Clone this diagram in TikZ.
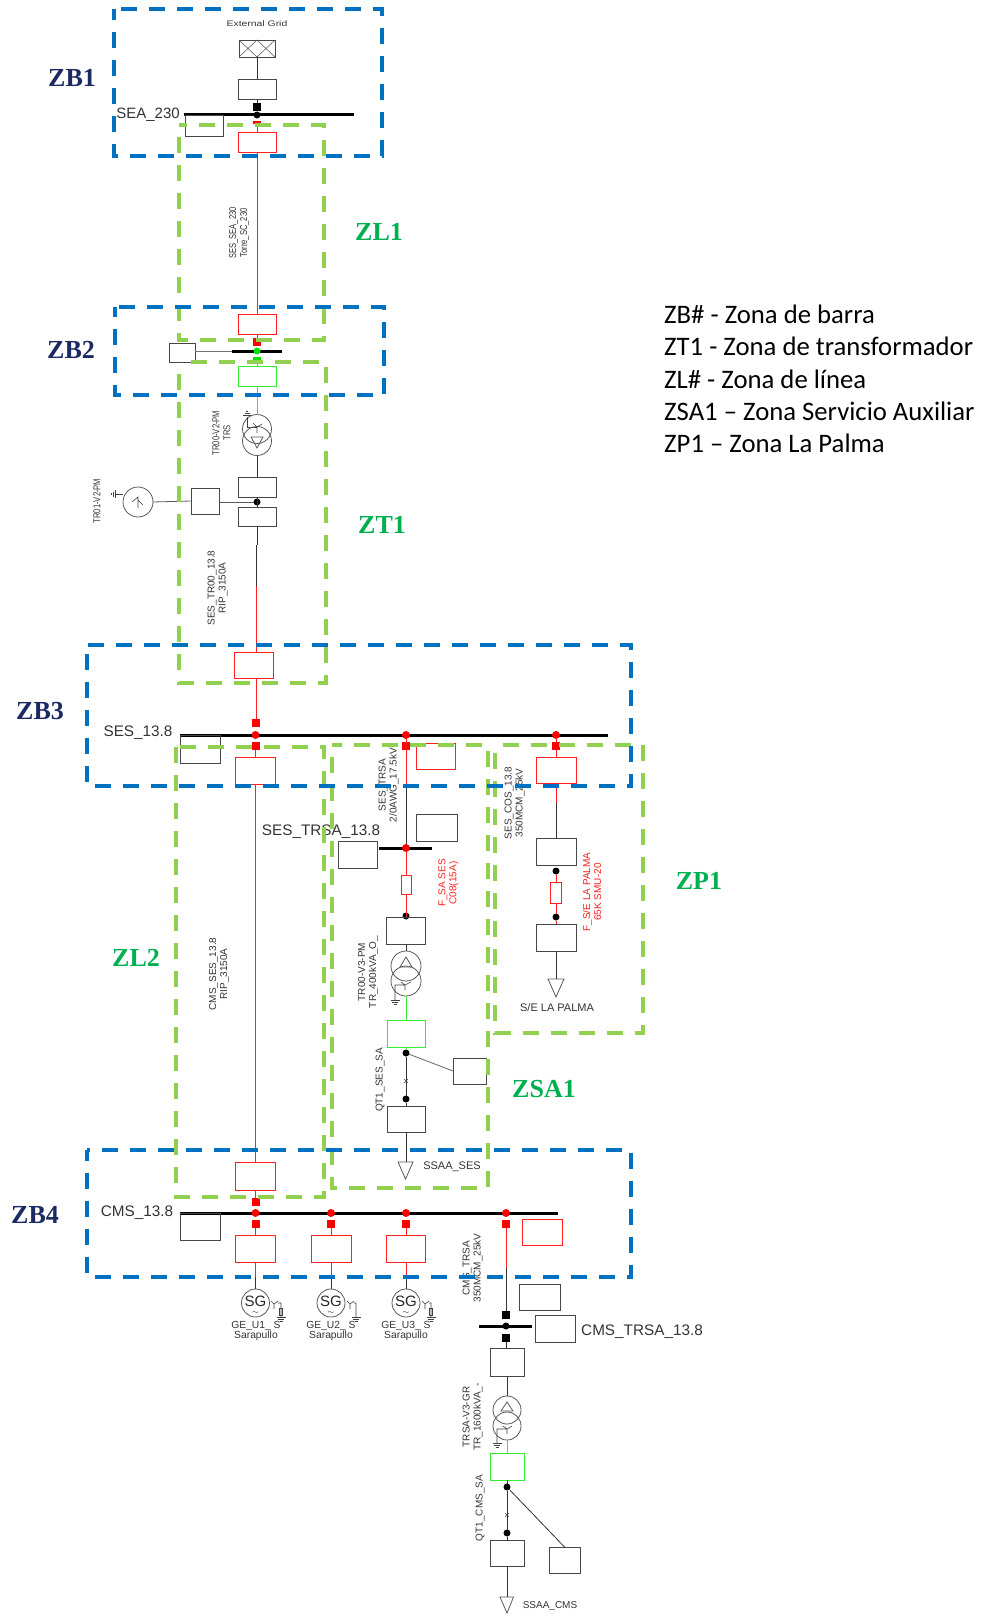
\documentclass[tikz,border=0pt]{standalone}
\usepackage{graphicx}
\usepackage{fontspec}
\setmainfont{Liberation Sans}
\newfontfamily\legendfont{Carlito}
\newfontfamily\zonefont{Liberation Serif}
\definecolor{zoneblue}{HTML}{0070C0}
\definecolor{zonegreen}{HTML}{92D050}
\definecolor{txtgreen}{HTML}{00B050}
\definecolor{txtnavy}{HTML}{1B2A63}
\definecolor{linered}{HTML}{FF2020}
\definecolor{linegreen}{HTML}{33EE33}
\newcommand{\narrowtxt}[1]{\scalebox{.76}[1]{#1}}
\newcommand{\gndsym}[2]{
\draw[gnd] (#1-4.5,#2) -- (#1+4.5,#2);
\draw[gnd] (#1-3,#2+2) -- (#1+3,#2+2);
\draw[gnd] (#1-1.5,#2+4) -- (#1+1.5,#2+4);
}
\tikzset{
zb/.style={zoneblue,line width=3.6pt,dash pattern=on 16pt off 12pt,dash phase=#1},
zg/.style={zonegreen,line width=3.6pt,dash pattern=on 16pt off 12pt,dash phase=#1},
bkbox/.style 2 args={draw=black!72,line width=.9pt,minimum width=#1,minimum height=#2,inner sep=0pt,outer sep=0pt},
rdbox/.style 2 args={draw=linered,line width=.9pt,minimum width=#1,minimum height=#2,inner sep=0pt,outer sep=0pt},
gnbox/.style 2 args={draw=linegreen,line width=.9pt,minimum width=#1,minimum height=#2,inner sep=0pt,outer sep=0pt},
bus/.style={fill=black,minimum width=#1,minimum height=3pt,inner sep=0pt,outer sep=0pt},
bdot/.style={circle,fill=black,minimum size=7pt,inner sep=0pt,outer sep=0pt},
rdot/.style={circle,fill=red,minimum size=8pt,inner sep=0pt,outer sep=0pt},
gdot/.style={circle,fill=green!90!black,minimum size=7pt,inner sep=0pt,outer sep=0pt},
bsq/.style={fill=black,minimum size=8pt,inner sep=0pt,outer sep=0pt},
rsq/.style={fill=red,minimum size=8pt,inner sep=0pt,outer sep=0pt},
gsq/.style={fill=green!90!black,minimum width=8pt,minimum height=4pt,inner sep=0pt,outer sep=0pt},
circ/.style={circle,draw=black!65,line width=.8pt,minimum size=#1,inner sep=0pt,outer sep=0pt},
tri/.style={draw=black!65,line width=.8pt},
lnb/.style={black!80,line width=.8pt},
lnr/.style={linered,line width=.8pt},
lng/.style={linegreen,line width=.8pt},
gnd/.style={black!75,line width=.6pt},
rlab/.style={rotate=90,align=center,inner sep=0pt,text=black!80,font=\fontsize{10}{11}\selectfont},
rlabr/.style={rotate=90,align=center,inner sep=0pt,text=linered,font=\fontsize{10}{11}\selectfont},
hlab/.style={inner sep=0pt,text=black!80,font=\fontsize{11}{12}\selectfont},
buslab/.style={inner sep=0pt,text=black!80,font=\fontsize{15.3}{16}\selectfont},
sgtxt/.style={align=center,inner sep=0pt,font=\fontsize{15}{8}\selectfont,text=black!85},
zbtxt/.style={inner sep=0pt,text=txtnavy,font=\fontsize{26}{28}\zonefont\bfseries},
zgtxt/.style={inner sep=0pt,text=txtgreen,font=\fontsize{26}{28}\zonefont\bfseries},
legendtxt/.style={anchor=west,inner sep=0pt,text=black,font=\fontsize{26.7}{28}\legendfont},
}
\begin{document}
\begin{tikzpicture}[x=1pt,y=-1pt]
\useasboundingbox (0,0) rectangle (981,1616);

% grid feed and SEA_230
\node[hlab] (extgrid) at (257,24) {\fontsize{8}{9}\selectfont\scalebox{1.3}[1]{External Grid}};
\node[bkbox={36}{17}] (gridbox) at (257,48.5) {};
\draw[black!70,line width=.5pt] (gridbox.north west) -- (gridbox.south) -- (gridbox.north east);
\draw[black!70,line width=.5pt] (gridbox.south west) -- (gridbox.north) -- (gridbox.south east);
\node[bkbox={38}{20}] (b1) at (257,89) {};
\node[bsq] (sq1) at (257,107) {};
\node[bus=170] (sea) at (269,115) {};
\node[bdot] (d1) at (257,115) {};
\node[rsq,minimum height=3pt] (sq2) at (257,123) {};
\node[bkbox={38}{21}] (seabox) at (204,125.5) {};
\node[rdbox={38}{20}] (r1) at (257,142) {};
\node[buslab,font=\fontsize{15}{16}\selectfont] (sealab) at (148,115) {SEA\_230};
\draw[lnb] (gridbox.south) -- (b1.north);
\draw[lnb] (b1.south) -- (sq1.north);
\draw[lnr] (sq2.south) -- (r1.north);
\draw[lnr] (r1.south) -- (257,314) coordinate (c1);
\node[rlab] (l1) at (239,233) {\narrowtxt{SES\_SEA\_230}\\\narrowtxt{Torre\_SC\_230}};

% bus of zone 2
\node[rdbox={38}{20}] (r2) at (257,324) {};
\node[rsq] (sq3) at (257,342) {};
\node[bus=50] (zb2bus) at (257,351) {};
\node[gdot] (d2) at (257,351) {};
\node[gsq] (sq4) at (257,359) {};
\node[gnbox={38}{20}] (g1) at (257,376) {};
\node[bkbox={26}{19}] (zb2box) at (182,352.5) {};
\draw[lnr] (r2.south) -- (sq3.north);
\draw[lng] (sq4.south) -- (g1.north);
\draw[black!55,line width=.8pt] (zb2box.east |- zb2bus) -- (zb2bus.west);

% transformer TR00-V2
\node[circ=29] (t1a) at (257,429) {};
\node[circ=29] (t1b) at (257,441) {};
\node[bkbox={38}{20}] (b2) at (257,487) {};
\node[bdot] (d3) at (257,502) {};
\node[bkbox={38}{19}] (b3) at (257,516.5) {};
\node[circ=30] (gen1) at (138,502) {};
\node[bkbox={28}{26}] (tr01box) at (205,501) {};
\draw[lng] (g1.south) -- (t1a.north);
\draw[lnb] (t1b.south) -- (b2.north);
\draw[lnb] (b2.south) -- (b3.north);
\draw[black!65,line width=.8pt] (gen1.east) -- (tr01box.west);
\draw[black!65,line width=.8pt] (tr01box.east |- d3) -- (d3);
\draw[tri] (251,437) -- (263,437) -- (257,448) -- cycle;
\draw[gnd] (247,417) -- (247,427) -- (252,427) -- (257,427);
\draw[gnd] (257,427) -- (262,424) (257,427) -- (253,423) (257,427) -- (257,433);
\draw[gnd] (243,415) -- (251,415) (244.5,413) -- (249.5,413) (246,411) -- (248,411);
\draw[gnd] (132,502) -- (138,497) -- (138,508) (138,500) -- (143,505);
\draw[gnd] (123,494) -- (115,494);
\draw[gnd] (115,490) -- (115,498) (113,491.5) -- (113,496.5) (111,493) -- (111,495);
\node[rlab] (l2) at (221.5,433) {\narrowtxt{TR00-V2-PM}\\\narrowtxt{TRS}};
\node[rlab] (l3) at (97,501) {\narrowtxt{TR01-V2-PM}};

% cable to SES_13.8
\coordinate (c2) at (257,545);
\coordinate (c3) at (256,545);
\coordinate (c4) at (256,586);
\node[rdbox={39}{26}] (r3) at (253.5,665) {};
\draw[lnb] (b3.south) -- (c2);
\draw[lnb] (c3) -- (c4);
\draw[lnr] (c4) -- (c4 |- r3.north);
\node[rlab] (l4) at (217.5,588) {SES\_TR00\_13.8\\RIP\_3150A};

% SES_13.8
\node[bus=428] (ses) at (394,735) {};
\node[buslab] (seslab) at (138,733) {SES\_13.8};
\node[rsq] (sq5) at (255.5,723) {};
\node[rdot] (d4) at (255.5,735) {};
\node[rsq] (sq6) at (255.5,746) {};
\node[bkbox={40}{28}] (sesbox) at (200,749) {};
\node[rdbox={40}{27}] (r4) at (255.5,770.5) {};
\draw[lnr] (c4 |- r3.south) -- (c4 |- sq5.north);
\draw[lnr] (sq6.south) -- (r4.north);

% feeder CMS_SES
\node[rdbox={40}{28}] (r7) at (255.5,1176) {};
\draw[lnr] (r4.south) -- (r7.north);
\node[rlab] (l5) at (219,974) {CMS\_SES\_13.8\\RIP\_3150A};

% feeder SES_TRSA
\node[rdot] (d5) at (406,735) {};
\node[rsq] (sq7) at (406,746) {};
\node[rdbox={39}{26}] (r5) at (435.5,756) {};
\coordinate (c5) at (406,788);
\node[bus=53] (trsabus) at (405.5,848) {};
\node[rdot] (d6) at (406,848) {};
\node[bkbox={39}{27}] (trsabox1) at (357.5,854.5) {};
\node[bkbox={41}{27}] (trsabox2) at (436.5,827.5) {};
\node[buslab] (trsalab) at (321,832) {SES\_TRSA\_13.8};
\node[rdbox={10}{19}] (fuse1) at (406,884.5) {};
\node[bdot] (d7) at (406,916) {};
\node[bkbox={39}{27}] (b4) at (405.5,930.5) {};
\node[circ=30] (t2a) at (406,966) {};
\node[circ=30] (t2b) at (406,981) {};
\node[gnbox={38}{27}] (g2) at (406,1033.5) {};
\draw[lnr] (d5) -- (c5);
\draw[lnb] (c5) -- (d6);
\draw[lnr] (d6) -- (fuse1.north);
\draw[lnr] (fuse1.south) -- (b4.north -| fuse1);
\draw[lnb] (b4.south -| t2a) -- (t2a.north);
\draw[lng] (t2b.south) -- (g2.north);
\draw[tri] (406,966-9) -- (400,966+1) -- (412,966+1) -- cycle;
\gndsym{395}{1000}
\draw[gnd] (395,1000) -- (395,985) -- (405,985) -- (411,982) (405,985) -- (405,990) (405,985) -- (401,982);
\node[rlab] (l6) at (388.5,785) {SES\_TRSA\\2/0AWG\_17.5kV};
\node[rlabr] (l7) at (448.5,883) {F\_SA SES\\C08(15A)};
\node[rlab] (l8) at (368,972) {TR00-V3-PM\\TR\_400kVA\_O\_};

% auxiliary service SES
\node[bdot] (d8) at (406,1053) {};
\node[bdot] (d9) at (406,1099) {};
\node[bkbox={38}{26}] (b5) at (406,1119) {};
\node[bkbox={33}{26}] (qt1box) at (469.5,1071) {};
\coordinate (c6) at (406,1162);
\draw[lng] (g2.south) -- (d8);
\draw[lnb] (d8) -- (d9);
\draw[lnb] (d9) -- (b5.north);
\draw[lnb] (b5.south) -- (c6);
\draw[black!60,line width=.8pt] (d8) -- (qt1box.west);
\draw[gnd] (404,1079) -- (408,1083) (408,1079) -- (404,1083);
\draw[tri] (398,1162) -- (413,1162) -- (405.5,1179) -- cycle;
\node[rlab] (l9) at (380,1080) {QT1\_SES\_SA};
\node[hlab] (ssaases) at (452,1167) {SSAA\_SES};

% feeder La Palma
\node[rdot] (d10) at (556,735) {};
\node[rsq] (sq8) at (556,746) {};
\node[rdbox={40}{26}] (r6) at (556,770) {};
\coordinate (c7) at (556,803);
\node[bkbox={40}{27}] (b6) at (556,851.5) {};
\node[bdot] (d11) at (556,871) {};
\node[rdbox={11}{21}] (fuse2) at (556,892.5) {};
\node[bdot] (d12) at (556,917) {};
\node[bkbox={40}{27}] (b7) at (556,937.5) {};
\coordinate (c8) at (556,979);
\draw[lnr] (d10) -- (sq8);
\draw[lnr] (sq8.south) -- (r6.north);
\draw[lnr] (r6.south) -- (c7);
\draw[lnb] (c7) -- (b6.north);
\draw[lnr] (d11) -- (fuse2.north);
\draw[lnr] (fuse2.south) -- (d12);
\draw[lnr] (d12) -- (b7.north);
\draw[lnb] (b7.south) -- (c8);
\draw[tri] (548,979) -- (564,979) -- (556,997) -- cycle;
\node[rlab] (l10) at (514.5,803) {SES\_COS\_13.8\\350MCM\_25kV};
\node[rlabr] (l11) at (592,892) {F\_S/E LA PALMA\\65K SMU-20};
\node[hlab] (palma) at (557,1008) {S/E LA PALMA};

% CMS_13.8
\node[bus=378] (cms) at (369,1213) {};
\node[buslab] (cmslab) at (137,1212.5) {CMS\_13.8};
\node[rsq] (sq9) at (255.5,1202) {};
\node[rdot] (d13) at (255.5,1213) {};
\node[rsq] (sq10) at (255.5,1224) {};
\node[rdot] (d14) at (331,1213) {};
\node[rsq] (sq11) at (331,1224) {};
\node[rdot] (d15) at (406,1213) {};
\node[rsq] (sq12) at (406,1224) {};
\node[rdot] (d16) at (506,1213) {};
\node[rsq] (sq13) at (506,1224) {};
\node[bkbox={40}{27}] (cmsbox) at (200,1226.5) {};
\node[rdbox={40}{27}] (r8) at (255.5,1248.5) {};
\node[rdbox={40}{27}] (r9) at (331,1248.5) {};
\node[rdbox={39}{27}] (r10) at (405.5,1248.5) {};
\node[rdbox={40}{26}] (r11) at (542,1232) {};
\draw[lnr] (r7.south) -- (sq9.north);
\draw[lnr] (sq10.south) -- (r8.north);
\draw[lnr] (sq11.south) -- (r9.north);
\draw[lnr] (sq12.south) -- (r10.north -| sq12);

% generators
\node[circ=28] (sg1) at (255.5,1303) {};
\node[circ=28] (sg2) at (331,1303) {};
\node[circ=28] (sg3) at (406,1303) {};
\coordinate (c9) at (255.5,1277);
\coordinate (c10) at (331,1277);
\coordinate (c11) at (406,1277);
\draw[lnr] (r8.south) -- (c9);
\draw[lnb] (c9) -- (sg1.north);
\draw[lnr] (r9.south) -- (c10);
\draw[lnb] (c10) -- (sg2.north);
\draw[lnr] (r10.south -| c11) -- (c11);
\draw[lnb] (c11) -- (sg3.north);
\node[sgtxt] (sgt1) at (255.5,1305) {SG\\{\fontsize{8}{8}\selectfont$\sim$}};
\node[sgtxt] (sgt2) at (331,1305) {SG\\{\fontsize{8}{8}\selectfont$\sim$}};
\node[sgtxt] (sgt3) at (406,1305) {SG\\{\fontsize{8}{8}\selectfont$\sim$}};
\draw[gnd] (271,1301) -- (274,1304) -- (278,1301) (274,1304) -- (274,1309) (278,1303) -- (281,1303) -- (281,1317);
\draw[gnd] (279.5,1308) rectangle (282.5,1315);
\gndsym{281}{1317}
\draw[gnd] (347,1301) -- (350,1304) -- (354,1301) (350,1304) -- (350,1309) (354,1303) -- (356,1303) -- (356,1317);
\gndsym{356}{1317}
\draw[gnd] (422,1301) -- (425,1304) -- (429,1301) (425,1304) -- (425,1309) (429,1303) -- (431,1303) -- (431,1317);
\draw[gnd] (429.5,1308) rectangle (432.5,1315);
\gndsym{431}{1317}
\node[hlab,align=center,font=\fontsize{10.3}{10.5}\selectfont] (ge1) at (256,1331) {GE\_U1\_ S\\Sarapullo};
\node[hlab,align=center,font=\fontsize{10.3}{10.5}\selectfont] (ge2) at (331,1331) {GE\_U2\_ S\\Sarapullo};
\node[hlab,align=center,font=\fontsize{10.3}{10.5}\selectfont] (ge3) at (406,1331) {GE\_U3\_ S\\Sarapullo};

% feeder CMS_TRSA
\coordinate (c12) at (506,1268);
\node[bkbox={41}{26}] (trsb1) at (539.5,1297) {};
\node[bsq] (sq14) at (506,1315) {};
\node[bus=53] (trsbus) at (505.5,1326) {};
\node[bdot] (d17) at (506,1326) {};
\node[bsq] (sq15) at (506,1338) {};
\node[bkbox={40}{27}] (trsb2) at (555,1328.5) {};
\node[buslab] (trslab) at (642,1331.5) {CMS\_TRSA\_13.8};
\node[bkbox={34}{28}] (b8) at (507,1362) {};
\node[circ=28] (t3a) at (507,1410) {};
\node[circ=28] (t3b) at (507,1426) {};
\node[gnbox={34}{27}] (g3) at (507,1466.5) {};
\node[bdot] (d18) at (507,1487) {};
\node[bdot] (d19) at (507,1533) {};
\node[bkbox={34}{26}] (b9) at (507,1553) {};
\node[bkbox={31}{26}] (qt2box) at (564.5,1560) {};
\coordinate (c13) at (507,1597);
\draw[lnr] (sq13.south) -- (c12);
\draw[lnb] (c12) -- (sq14.north);
\draw[lnb] (sq15.south) -- (b8.north -| sq15);
\draw[lnb] (b8.south) -- (t3a.north);
\draw[lng] (t3b.south) -- (g3.north);
\draw[lnb] (g3.south) -- (d18);
\draw[lnb] (d18) -- (d19);
\draw[lnb] (d19) -- (b9.north);
\draw[lnb] (b9.south) -- (c13);
\draw[lnb] (d18) -- (qt2box.north);
\draw[tri] (507,1410-8) -- (501,1410+1) -- (513,1410+1) -- cycle;
\gndsym{497}{1443}
\draw[gnd] (497,1443) -- (497,1429) -- (507,1429) -- (512,1426) (507,1429) -- (507,1434) (507,1429) -- (503,1426);
\draw[gnd] (505,1513) -- (509,1517) (509,1513) -- (505,1517);
\draw[tri] (500,1597) -- (513.5,1597) -- (507,1613) -- cycle;
\node[rlab] (l12) at (472.5,1268) {CMS\_TRSA\\350MCM\_25kV};
\node[rlab] (l13) at (472.5,1417) {TRSA-V3-GR\\TR\_1600kVA\_-};
\node[rlab] (l14) at (480,1508) {QT1\_CMS\_SA};
\node[hlab,font=\fontsize{10}{11}\selectfont] (ssaacms) at (550,1606) {SSAA\_CMS};

% zones
\draw[zg=16pt] (179,125) rectangle (324,340);
\draw[zg=16pt] (179,362) rectangle (326,683);
\draw[zg=0pt] (176,747) rectangle (324,1197);
\draw[zg=16pt] (332,745) rectangle (488,1188);
\draw[zg=20pt] (495,745) rectangle (643,1033);
\draw[zb=5pt] (114,9) rectangle (382,156);
\draw[zb=6pt] (115,307) rectangle (384,395);
\draw[zb=19pt] (87,645) rectangle (631,786);
\draw[zb=5pt] (87,1150) rectangle (631,1277);

\node[zbtxt] (zb1) at (72,78) {ZB1};
\node[zbtxt] (zb2) at (71,350) {ZB2};
\node[zbtxt] (zb3) at (40,711) {ZB3};
\node[zbtxt] (zb4) at (35,1215) {ZB4};
\node[zgtxt] (zl1) at (379,232) {ZL1};
\node[zgtxt] (zt1) at (382,525) {ZT1};
\node[zgtxt] (zl2) at (136,958) {ZL2};
\node[zgtxt] (zp1) at (699,881) {ZP1};
\node[zgtxt] (zsa1) at (544,1089) {ZSA1};

\node[legendtxt] (lg1) at (664,314) {ZB\# - Zona de barra};
\node[legendtxt] (lg2) at (664,346) {ZT1 - Zona de transformador};
\node[legendtxt] (lg3) at (664,379) {ZL\# - Zona de línea};
\node[legendtxt] (lg4) at (664,411) {ZSA1 – Zona Servicio Auxiliar};
\node[legendtxt] (lg5) at (664,443) {ZP1 – Zona La Palma};
\end{tikzpicture}
\end{document}
